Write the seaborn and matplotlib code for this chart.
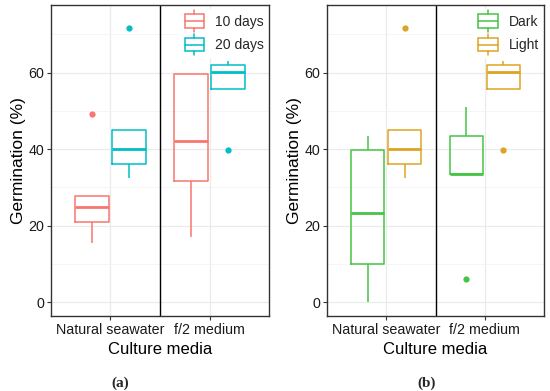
import matplotlib
matplotlib.use("Agg")
import matplotlib.pyplot as plt
from matplotlib.legend_handler import HandlerBase
from matplotlib.patches import Patch, Rectangle
from matplotlib.lines import Line2D
import seaborn as sns
import pandas as pd

sns.set_theme(style="white")
plt.rcParams['font.family'] = ['Liberation Sans', 'DejaVu Sans']

media = ["Natural seawater", "f/2 medium"]

# panel (a): germination after 10 and 20 days
time_labels = ["10 days", "20 days"]
days10_sea = [15.5, 21.1, 25.0, 27.7, 49.2]
days10_f2 = [17.0, 31.8, 42.1, 59.7, 59.7]
days20_sea = [32.5, 36.1, 40.0, 44.9, 71.6]
days20_f2 = [39.9, 55.7, 60.3, 62.1, 63.0]

# panel (b): dark vs light
light_labels = ["Dark", "Light"]
dark_sea = [0.0, 10.0, 23.3, 39.9, 43.5]
dark_f2 = [6.2, 33.6, 33.6, 43.5, 51.0]
light_sea = [32.5, 36.1, 40.0, 44.9, 71.6]
light_f2 = [39.9, 55.7, 60.3, 62.1, 63.0]

colors_a = ["#F8766D", "#00BFC4"]
colors_b = ["#45C445", "#DDA423"]


def long_table(groups, labels):
    rows = []
    for label, (sea, f2) in zip(labels, groups):
        for v in sea:
            rows.append((media[0], label, v))
        for v in f2:
            rows.append((media[1], label, v))
    return pd.DataFrame(rows, columns=["media", "group", "germ"])


df_a = long_table([(days10_sea, days10_f2), (days20_sea, days20_f2)], time_labels)
df_b = long_table([(dark_sea, dark_f2), (light_sea, light_f2)], light_labels)


class BoxHandler(HandlerBase):
    # ggplot-style boxplot key
    def create_artists(self, legend, orig_handle, xdescent, ydescent,
                       width, height, fontsize, trans):
        c = orig_handle.get_edgecolor()
        x0, y0 = -xdescent, -ydescent
        bh = height * 1.25
        by = y0 + (height - bh) / 2
        box = Rectangle((x0, by), width, bh, facecolor="white",
                        edgecolor=c, lw=1.1, transform=trans)
        med = Line2D([x0, x0 + width], [by + bh / 2] * 2, color=c, lw=1.1, transform=trans)
        xm = x0 + width / 2
        w1 = Line2D([xm, xm], [by + bh, by + bh + 3], color=c, lw=1.1, transform=trans)
        w2 = Line2D([xm, xm], [by - 3, by], color=c, lw=1.1, transform=trans)
        return [box, med, w1, w2]


fig = plt.figure(figsize=(5.5, 3.91), dpi=100)
ax_a = fig.add_axes([51 / 550, 1 - 316 / 391, 218 / 550, 311 / 391])
ax_b = fig.add_axes([327 / 550, 1 - 316 / 391, 217 / 550, 311 / 391])

for ax, df, labels, cols, tag, tx in [(ax_a, df_a, time_labels, colors_a, "(a)", 120),
                                      (ax_b, df_b, light_labels, colors_b, "(b)", 427)]:
    ax.set_axisbelow(True)
    sns.boxplot(data=df, x="media", y="germ", hue="group", order=media,
                hue_order=labels, palette=cols, fill=False, width=0.75, gap=0.1,
                linewidth=1.1, showcaps=False, whis=1.5, legend=False,
                medianprops={"linewidth": 2.0},
                flierprops={"marker": "o", "markersize": 4.5}, ax=ax)
    for line in ax.lines:
        if line.get_marker() == "o":
            line.set_markerfacecolor(line.get_markeredgecolor())
            line.set_markeredgewidth(0)
    ax.axvline(0.5, color="black", lw=1.0)

    ax.set_xlim(-0.6, 1.6)
    ax.set_ylim(-3.6, 77.7)
    ax.set_yticks([0, 20, 40, 60])
    ax.set_yticks([10, 30, 50, 70], minor=True)
    ax.grid(which="major", color="#EBEBEB", lw=0.9)
    ax.grid(which="minor", axis="y", color="#F2F2F2", lw=0.5)
    for s in ax.spines.values():
        s.set_color("#333333")
        s.set_linewidth(1.0)
    ax.tick_params(axis="both", which="major", length=3, width=0.8, color="#333333",
                   labelsize=10.3, labelcolor="#1A1A1A", pad=2, left=True, bottom=True)
    ax.tick_params(axis="y", which="minor", length=0)
    ax.set_xlabel("Culture media", fontsize=12, color="black")
    ax.set_ylabel("Germination (%)", fontsize=12.5, color="black")
    ax.xaxis.set_label_coords(0.5, -0.085)
    ax.yaxis.set_label_coords(-0.115, 0.5)

    handles = [Patch(edgecolor=c, facecolor="white", label=l) for c, l in zip(cols, labels)]
    leg = ax.legend(handles=handles, handler_map={Patch: BoxHandler()}, loc="upper right",
                    bbox_to_anchor=(1.022, 1.0), borderaxespad=0.3, fontsize=10,
                    frameon=True, framealpha=1, facecolor="white", edgecolor="none",
                    handlelength=1.4, handleheight=0.8, handletextpad=0.8,
                    labelspacing=0.7, borderpad=0.4, fancybox=False)
    leg.set_zorder(2.4)  # keep the panel border on top of the legend box
    fig.text(tx / 550, 1 - 383 / 391, tag, ha="center", va="center", fontsize=11,
             fontweight="bold", family=["Liberation Serif", "DejaVu Serif"])

fig.savefig("out.png", dpi=100)
plt.close(fig)
